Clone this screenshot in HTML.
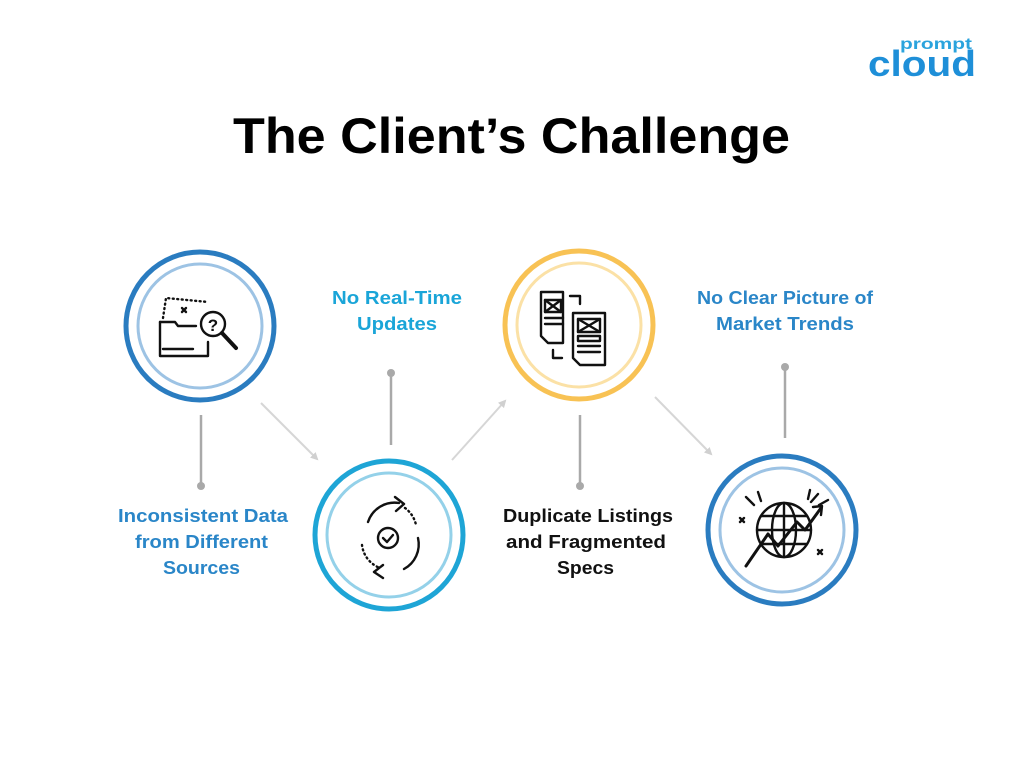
<!DOCTYPE html>
<html><head><meta charset="utf-8"><style>
html,body{margin:0;padding:0;background:#fff;width:1024px;height:768px;overflow:hidden}
svg text{font-family:"Liberation Sans",sans-serif;font-weight:bold}
</style></head><body>
<svg width="1024" height="768" viewBox="0 0 1024 768" xmlns="http://www.w3.org/2000/svg">
<defs>
<marker id="ah" markerWidth="8" markerHeight="8" refX="6" refY="4" orient="auto" markerUnits="userSpaceOnUse"><path d="M0,0 L8,4 L0,8 z" fill="#d0d0d0"/></marker>
</defs>
<!-- logo -->
<text x="900" y="49" font-size="16" fill="#2aa3dd" textLength="72" lengthAdjust="spacingAndGlyphs">prompt</text>
<text x="868" y="76" font-size="36" fill="#1e8fd8" textLength="108" lengthAdjust="spacingAndGlyphs">cloud</text>
<!-- title -->
<text x="233" y="153" font-size="50" fill="#000" textLength="557" lengthAdjust="spacingAndGlyphs">The Client’s Challenge</text>

<!-- connectors -->
<g stroke="#a9a9a9" stroke-width="2.5">
<line x1="201" y1="415" x2="201" y2="485"/>
<line x1="391" y1="373" x2="391" y2="445"/>
<line x1="580" y1="415" x2="580" y2="485"/>
<line x1="785" y1="367" x2="785" y2="438"/>
</g>
<g fill="#a9a9a9">
<circle cx="201" cy="486" r="4"/><circle cx="391" cy="373" r="4"/>
<circle cx="580" cy="486" r="4"/><circle cx="785" cy="367" r="4"/>
</g>
<g stroke="#d6d6d6" stroke-width="2" marker-end="url(#ah)">
<line x1="261" y1="403" x2="317" y2="459"/>
<line x1="452" y1="460" x2="505" y2="401"/>
<line x1="655" y1="397" x2="711" y2="454"/>
</g>

<!-- circles -->
<g fill="#fff">
<circle cx="200" cy="326" r="74" stroke="#2a7cc0" stroke-width="5"/>
<circle cx="200" cy="326" r="62" stroke="#9dc3e4" stroke-width="3"/>
<circle cx="389" cy="535" r="74" stroke="#1ea5d6" stroke-width="5"/>
<circle cx="389" cy="535" r="62" stroke="#94d1e9" stroke-width="3"/>
<circle cx="579" cy="325" r="74" stroke="#f8c254" stroke-width="5"/>
<circle cx="579" cy="325" r="62" stroke="#fbe1a6" stroke-width="3"/>
<circle cx="782" cy="530" r="74" stroke="#2a7cc0" stroke-width="5"/>
<circle cx="782" cy="530" r="62" stroke="#9dc3e4" stroke-width="3"/>
</g>

<!-- icons -->
<g fill="none" stroke="#111" stroke-width="2.4" stroke-linecap="round" stroke-linejoin="round">
<!-- folder -->
<path d="M160,322 L160,356 L208,356 L208,342"/>
<path d="M160,322 L175,322 L178,326 L196,326"/>
<path d="M163,349 L193,349"/>
<path d="M163,318 L166,298 L208,302" stroke-dasharray="1,3.5"/>
<path d="M182,308 l4,4 M186,308 l-4,4"/>
<circle cx="213" cy="324" r="12"/>
<path d="M222,333 L236,348" stroke-width="4"/>
<text x="213" y="331" font-size="17" fill="#111" stroke="none" text-anchor="middle">?</text>
<!-- sync -->
<path d="M368,522 A28,28 0 0 1 399,503"/>
<path d="M395,497 L404,504 L396,511"/>
<path d="M404,569 A28,28 0 0 0 418,538"/>
<path d="M383,565 L374,572 L383,578"/>
<path d="M362,545 A28,28 0 0 0 380,568" stroke-dasharray="1,3.5"/>
<path d="M405,508 A28,28 0 0 1 416,525" stroke-dasharray="1,3.5"/>
<circle cx="388" cy="538" r="10"/>
<path d="M383,538 l4,4 l6,-7"/>
<!-- docs -->
<path d="M541,292 L563,292 L563,343 L548,343 L541,336 Z"/>
<rect x="545" y="300" width="16" height="12"/><path d="M545,300 l16,12 M561,300 l-16,12"/>
<path d="M570,296 L580,296 L580,304"/>
<path d="M545,318 L563,318 M545,324 L563,324"/>
<path d="M573,313 L605,313 L605,365 L580,365 L573,358 Z"/>
<rect x="578" y="319" width="22" height="13"/><path d="M578,319 l22,13 M600,319 l-22,13"/>
<rect x="578" y="336" width="22" height="5"/><path d="M578,346 L600,346 M578,352 L600,352"/>
<path d="M553,350 L553,358 L562,358"/>
<!-- globe -->
<circle cx="784" cy="530" r="27"/>
<ellipse cx="784" cy="530" rx="12" ry="27"/>
<path d="M784,503 L784,557 M757,530 L811,530 M761,516 L807,516 M761,544 L807,544"/>
<path d="M746,566 L768,534 L778,546 L797,522 L805,530 L821,508" stroke-width="3"/>
<path d="M813,507 L822,506 L821,515"/>
<path d="M746,497 l8,8 M758,492 l3,9 M818,494 l-7,8 M828,500 l-9,5 M810,490 l-2,9"/>
<path d="M740,518 l4,4 M744,518 l-4,4 M818,550 l4,4 M822,550 l-4,4"/>
</g>

<!-- labels -->
<g font-size="18" lengthAdjust="spacingAndGlyphs">
<text x="118" y="522" fill="#2a86c8" textLength="170" lengthAdjust="spacingAndGlyphs">Inconsistent Data</text>
<text x="135" y="548" fill="#2a86c8" textLength="133" lengthAdjust="spacingAndGlyphs">from Different</text>
<text x="163" y="574" fill="#2a86c8" textLength="77" lengthAdjust="spacingAndGlyphs">Sources</text>
<text x="332" y="304" fill="#1aa5d8" textLength="130" lengthAdjust="spacingAndGlyphs">No Real-Time</text>
<text x="357" y="330" fill="#1aa5d8" textLength="80" lengthAdjust="spacingAndGlyphs">Updates</text>
<text x="503" y="522" fill="#111" textLength="170" lengthAdjust="spacingAndGlyphs">Duplicate Listings</text>
<text x="506" y="548" fill="#111" textLength="160" lengthAdjust="spacingAndGlyphs">and Fragmented</text>
<text x="557" y="574" fill="#111" textLength="57" lengthAdjust="spacingAndGlyphs">Specs</text>
<text x="697" y="304" fill="#2a86c8" textLength="176" lengthAdjust="spacingAndGlyphs">No Clear Picture of</text>
<text x="716" y="330" fill="#2a86c8" textLength="138" lengthAdjust="spacingAndGlyphs">Market Trends</text>
</g>
</svg>
</body></html>
